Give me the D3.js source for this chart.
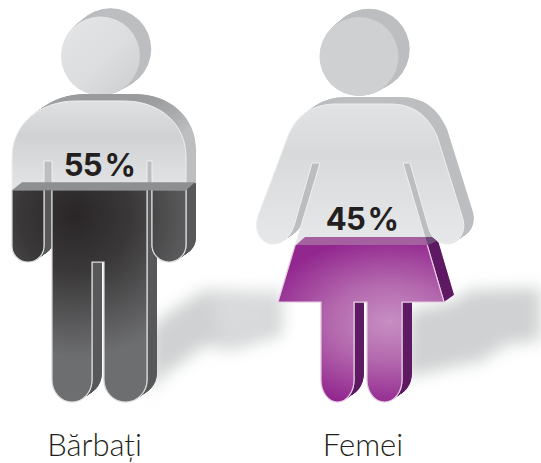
<!DOCTYPE html>
<html><head><meta charset="utf-8">
<script src="https://cdn.jsdelivr.net/npm/d3@7"></script>
<style>html,body{margin:0;padding:0;background:#fff}svg{display:block}</style>
</head><body><svg id="c" width="541" height="463"></svg>
<script>
const categories = ["Bărbați", "Femei"];
const values = [55, 45];
const valueLabels = ["55 %", "45 %"];

const manBody = "M12,157 C12,124 40,101 76,101 L124,101 C160,101 186,124 186,157 L186,245 A17,17 0 0 1 152,245 L152,161 L147,161 L147,380 A21.5,22 0 0 1 104,380 L104,262 L92,262 L92,380 A20,22 0 0 1 52,380 L52,161 L44,161 L44,246 A16,16 0 0 1 12,246 Z";
const womanBody = "M288,136 C296,116 312,104 336,104 L390,104 C414,104 428,116 437,136 L462,216 C468,232 458,244 448,244 C438,244 431,238 428,226 L410,163 L403,163 L444,302 L402,302 L402,380 A17.5,22 0 0 1 367,380 L367,302 L354,302 L354,380 A16.5,22 0 0 1 321,380 L321,302 L278,302 L320,163 L312,163 L294,226 C290,238 282,244 272,244 C262,244 253,232 258,216 Z";

const figures = [
  {body: manBody, head:[100.5,56,39.5], left:12, right:186, base:403, top:16, dx:10, dy:-7,
   labelX:94.5, valueX:99.5, valueY:176, side:"url(#manSide)", sideLow:"#58595b", band:"#8e8f91", grad:"manFill"},
  {body: womanBody, head:[359,56.5,39.5], left:296, right:428, base:403, top:52, dx:10, dy:-7,
   labelX:363, valueX:362, valueY:230, side:"#bcbec0", sideLow:"#5f1a63", band:"#a5619f", grad:"womanFill"}
];

const svg = d3.select("#c");
const defs = svg.append("defs");

function linear(id, stops, x1, y1, x2, y2){
  const g = defs.append("linearGradient").attr("id",id).attr("gradientUnits","userSpaceOnUse")
    .attr("x1",x1).attr("y1",y1).attr("x2",x2).attr("y2",y2);
  stops.forEach(s=>g.append("stop").attr("offset",s[0]).attr("stop-color",s[1]));
}
function radial(id, stops, cx, cy, rx, ry){
  const g = defs.append("radialGradient").attr("id",id).attr("gradientUnits","userSpaceOnUse")
    .attr("cx",0).attr("cy",0).attr("r",1)
    .attr("gradientTransform",`translate(${cx},${cy}) scale(${rx},${ry})`);
  stops.forEach(s=>g.append("stop").attr("offset",s[0]).attr("stop-color",s[1]));
}
linear("lightMan",[[0,"#e0e1e3"],[.4,"#d0d1d3"],[1,"#e4e5e7"]],0,100,0,190);
linear("lightWoman",[[0,"#e2e3e5"],[.35,"#d8d9db"],[1,"#e6e7e8"]],0,104,0,240);
linear("headFill",[[0,"#e3e4e6"],[.55,"#dcdddf"],[1,"#cfd0d2"]],70,25,130,90);
linear("manSide",[[0,"#98999b"],[1,"#bcbec0"]],0,100,0,135);
radial("manFill",[[0,"#2a2627"],[.4,"#3a3839"],[1,"#6d6e70"]],75,215,142,142);
radial("womanFill",[[0,"#c78fc3"],[.45,"#b469ae"],[1,"#92278f"]],390,322,130,85);

defs.append("filter").attr("id","blur").attr("x","-20%").attr("y","-30%").attr("width","140%").attr("height","160%")
  .append("feGaussianBlur").attr("stdDeviation",8);

const shadows = svg.append("g").attr("filter","url(#blur)").attr("fill","#cfd1d2");
shadows.append("path").attr("d","M150,395 L158,380 L205,345 L230,350 L282,335 L282,292 L205,290 L165,315 L150,330 Z");
shadows.append("path").attr("d","M405,378 L483,360 L505,345 L541,340 L541,288 L470,290 L450,303 L410,310 Z");
shadows.append("path").attr("d","M480,365 L505,320 L480,300 L440,320 Z");
shadows.append("path").attr("d","M222,345 L272,330 L280,290 L210,295 Z").attr("fill","#d8dadb");

figures.forEach((f,i)=>{
  const y = d3.scaleLinear().domain([0,100]).range([f.base,f.top]);
  const level = y(values[i]);
  const g = svg.append("g");
  const lightId = i===0 ? "lightMan" : "lightWoman";

  defs.append("clipPath").attr("id","lower"+i).append("rect")
    .attr("x",0).attr("y",level).attr("width",541).attr("height",463-level);

  const [hx,hy,hr] = f.head;
  d3.range(20,0,-1).forEach(s=>{
    g.append("circle").attr("cx",hx+f.dx*s/20).attr("cy",hy+(-7)*s/20).attr("r",hr+1.2*s/20).attr("fill","#bcbec0");
  });
  g.append("circle").attr("cx",hx).attr("cy",hy).attr("r",hr).attr("fill","url(#headFill)");

  const steps = d3.range(20,0,-1);
  steps.forEach(s=>{
    g.append("path").attr("d",f.body).attr("transform",`translate(${f.dx*s/20},${f.dy*s/20})`).attr("fill",f.side);
  });
  steps.forEach(s=>{
    g.append("path").attr("d",f.body).attr("transform",`translate(${f.dx*s/20},${f.dy*s/20})`)
      .attr("fill",f.sideLow).attr("clip-path",`url(#lower${i})`);
  });

  g.append("path").attr("d",f.body).attr("fill",`url(#${lightId})`).attr("stroke","#eeeff0").attr("stroke-width",1);
  g.append("path").attr("d",f.body).attr("fill",`url(#${f.grad})`)
    .attr("stroke",i===0?"#d8d9da":"#e6c8e2").attr("stroke-width",1.2).attr("clip-path",`url(#lower${i})`);

  const surface = i===0
    ? [[f.left,level],[f.left+10,level+f.dy-1],[f.right+9,level+f.dy-1],[f.right,level]]
    : [[f.left,level],[f.left+9,level+f.dy-1],[f.right-3,level+f.dy-1],[f.right,level]];
  g.append("path").attr("d",d3.line()(surface)+"Z").attr("fill",f.band);
  if(i===1){
    g.append("path").attr("d",d3.line()([[f.right-3,level+f.dy-1],[f.right+4,level+f.dy-1],[f.right+9,level+f.dy+3],[f.right,level]])+"Z").attr("fill","#6f4a78");
  }

  g.append("text").text(valueLabels[i]).attr("x",f.valueX).attr("y",f.valueY)
    .attr("text-anchor","middle").attr("font-family","Inter").attr("font-weight",700)
    .attr("font-size",31).attr("word-spacing",-4).attr("letter-spacing",-0.8).attr("fill","#231f20");
  g.append("text").text(categories[i]).attr("x",f.labelX).attr("y",456)
    .attr("text-anchor","middle").attr("font-family","Lato").attr("font-weight",300)
    .attr("font-size",31).attr("fill","#231f20");
});
</script></body></html>
